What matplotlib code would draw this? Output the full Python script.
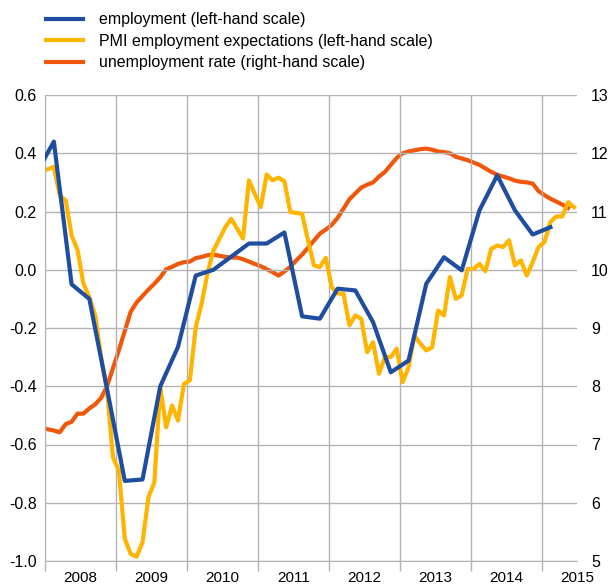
import numpy as np
import matplotlib.pyplot as plt
from matplotlib.ticker import FixedLocator, FuncFormatter

plt.rcParams['font.family'] = ['Liberation Sans', 'DejaVu Sans']
plt.rcParams['axes.unicode_minus'] = False

# employment, quarterly (2007Q4 .. 2015Q1), left-hand scale
employment = [0.33, 0.44, -0.05, -0.10, -0.41, -0.725, -0.72, -0.40, -0.265,
              -0.02, 0.00, 0.045, 0.09, 0.09, 0.128, -0.16, -0.168, -0.065,
              -0.071, -0.18, -0.352, -0.312, -0.048, 0.043, -0.002, 0.204,
              0.324, 0.204, 0.121, 0.146]

# PMI employment expectations, monthly (Dec 2007 .. Jun 2015), left-hand scale
pmi = [0.34, 0.345, 0.353, 0.255, 0.238, 0.118, 0.068, -0.048, -0.094, -0.157,
       -0.30, -0.415, -0.644, -0.69, -0.924, -0.976, -0.985, -0.936, -0.781,
       -0.73, -0.403, -0.541, -0.466, -0.518, -0.392, -0.38, -0.197, -0.117,
       -0.01, 0.066, 0.106, 0.146, 0.175, 0.141, 0.107, 0.307, 0.26, 0.215,
       0.327, 0.307, 0.316, 0.304, 0.198, 0.195, 0.192, 0.10, 0.015, 0.009,
       0.041, -0.06, -0.082, -0.082, -0.191, -0.157, -0.168, -0.283, -0.249,
       -0.357, -0.30, -0.30, -0.271, -0.386, -0.335, -0.226, -0.254, -0.277,
       -0.266, -0.14, -0.157, -0.025, -0.10, -0.088, 0.003, 0.003, 0.02,
       -0.005, 0.072, 0.083, 0.078, 0.101, 0.015, 0.032, -0.02, 0.026, 0.078,
       0.095, 0.164, 0.183, 0.183, 0.232, 0.215]

# unemployment rate, monthly (Dec 2007 .. May 2015), right-hand scale
unemp = [7.29, 7.26, 7.24, 7.21, 7.35, 7.39, 7.53, 7.53, 7.62, 7.69, 7.80,
         8.00, 8.31, 8.62, 8.95, 9.28, 9.44, 9.55, 9.66, 9.76, 9.87, 10.01,
         10.05, 10.10, 10.13, 10.14, 10.20, 10.22, 10.25, 10.26, 10.24, 10.22,
         10.21, 10.21, 10.18, 10.14, 10.10, 10.06, 10.01, 9.96, 9.90, 9.97,
         10.05, 10.16, 10.26, 10.38, 10.50, 10.62, 10.69, 10.77, 10.89, 11.05,
         11.21, 11.31, 11.41, 11.46, 11.50, 11.60, 11.68, 11.80, 11.92, 12.00,
         12.03, 12.05, 12.07, 12.08, 12.06, 12.03, 12.02, 12.00, 11.94, 11.91,
         11.88, 11.84, 11.80, 11.74, 11.68, 11.63, 11.60, 11.57, 11.53, 11.51,
         11.50, 11.48, 11.35, 11.28, 11.22, 11.17, 11.12, 11.06]

years = list(range(2008, 2016))
labels = ['employment (left-hand scale)',
          'PMI employment expectations (left-hand scale)',
          'unemployment rate (right-hand scale)']

# time axes: quarters at middle of mid-quarter month, months at mid-month
t_q = 2008 + 1.5 / 12 + 0.25 * (np.arange(len(employment)) - 1)
t_pmi = 2008 + (np.arange(len(pmi)) - 0.5) / 12
t_un = 2008 + (np.arange(len(unemp)) - 0.5) / 12

blue = '#1f4ea1'
yellow = '#ffb400'
orange = '#f0570a'
grid = '#b3b3b3'


def fmt_left(v, p):
    v = round(v, 1)
    return '0.0' if v == 0 else '%.1f' % v


fig = plt.figure(figsize=(6.09, 5.84), dpi=100)
ax = fig.add_axes([45 / 609, 1 - 561 / 584, 532 / 609, 466 / 584])
ax2 = ax.twinx()

l1, = ax.plot(t_q, employment, color=blue, lw=3, zorder=3)
l2, = ax.plot(t_pmi, pmi, color=yellow, lw=3, zorder=2)
l3, = ax2.plot(t_un, unemp, color=orange, lw=3)

ax.set_xlim(2008, 2015.5)
ax.set_ylim(-1.0, 0.6)
ax2.set_ylim(5, 13)
ax.set_zorder(ax2.get_zorder() + 1)
ax.patch.set_visible(False)

ax.set_yticks(np.arange(-1.0, 0.61, 0.2))
ax.yaxis.set_major_formatter(FuncFormatter(fmt_left))
ax2.set_yticks(range(5, 14))

ax.xaxis.set_major_locator(FixedLocator(years))
ax.xaxis.set_minor_locator(FixedLocator([y + 0.5 for y in years]))
ax.xaxis.set_major_formatter(FuncFormatter(lambda v, p: ''))
ax.xaxis.set_minor_formatter(FuncFormatter(lambda v, p: str(int(v))))
ax.tick_params(axis='x', which='major', length=7, color=grid, width=1)
ax.tick_params(axis='x', which='minor', length=0, pad=7, labelsize=11)
ax.tick_params(axis='y', length=0, pad=6, labelsize=11.5)
ax2.tick_params(axis='y', length=0, pad=10, labelsize=11.5)

ax.grid(True, axis='both', which='major', color=grid, lw=1)
for a in (ax, ax2):
    for s in ('top', 'right'):
        a.spines[s].set_visible(False)
    a.spines['left'].set_color(grid)
    a.spines['bottom'].set_color(grid)
ax2.spines['left'].set_visible(False)
ax2.spines['bottom'].set_visible(False)

fig.legend([l1, l2, l3], labels, loc='upper left',
           bbox_to_anchor=(40 / 609, 1 - 6 / 584), frameon=False,
           fontsize=11.5, handlelength=2.3, handletextpad=1.0,
           labelspacing=0.4, borderaxespad=0)

fig.savefig('out.png', dpi=100)
